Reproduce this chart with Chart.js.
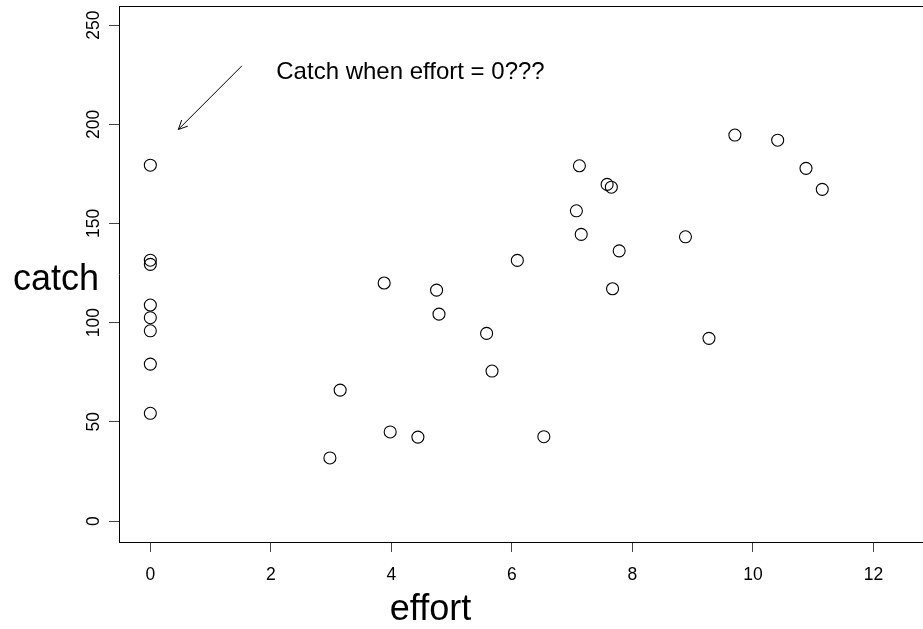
<!DOCTYPE html>
<html>
<head>
<meta charset="utf-8">
<script src="https://cdn.jsdelivr.net/npm/chart.js@4/dist/chart.umd.min.js"></script>
<style>
  html, body { margin: 0; padding: 0; background: #fff; overflow: hidden; }
  #wrap { width: 923px; height: 629px; position: relative; overflow: hidden; }
  #c { position: absolute; left: 0; top: -1px; }
</style>
</head>
<body>
<div id="wrap"><canvas id="c" width="930" height="630"></canvas></div>
<script>
// ---- data ----
const effort = [0, 0, 0, 0, 0, 0, 0, 0,
  2.98, 3.15, 3.88, 3.98, 4.44, 4.75, 4.79, 5.58, 5.67, 6.09, 6.53,
  7.07, 7.12, 7.15, 7.58, 7.65, 7.67, 7.78, 8.88, 9.27, 9.70, 10.41, 10.88, 11.15];
const catchVals = [179.4, 131.5, 129.4, 108.9, 102.5, 95.9, 79.1, 54.3,
  31.8, 66.0, 120.0, 44.9, 42.3, 116.4, 104.3, 94.6, 75.6, 131.4, 42.5,
  156.4, 179.1, 144.5, 169.7, 168.3, 117.1, 136.2, 143.3, 92.1, 194.6, 192.0, 177.8, 167.2];
const xTicks = [0, 2, 4, 6, 8, 10, 12];
const yTicks = [0, 50, 100, 150, 200, 250];
const xTitle = "effort";
const yTitle = "catch";
const noteText = "Catch when effort = 0???";
const noteAt = [2.09, 226.3];
const arrowFrom = [1.52, 229.5];
const arrowTo = [0.465, 197.4];

const points = effort.map((x, i) => ({ x: x, y: catchVals[i] }));
const FONT = "'Liberation Sans', Arial, Helvetica, sans-serif";

const decor = {
  id: 'decor',
  afterDraw(chart) {
    const { ctx, chartArea: a, scales: { x, y } } = chart;
    ctx.save();
    // top frame line
    ctx.strokeStyle = '#000';
    ctx.lineWidth = 1;
    ctx.beginPath();
    ctx.moveTo(a.left, Math.round(a.top) + 0.5);
    ctx.lineTo(a.right, Math.round(a.top) + 0.5);
    ctx.stroke();
    // axis titles (canvas is shifted up by 1px)
    ctx.fillStyle = '#000';
    ctx.font = '36px ' + FONT;
    ctx.textAlign = 'center';
    ctx.textBaseline = 'alphabetic';
    ctx.fillText(yTitle, 56, 290.5);
    ctx.fillText(xTitle, 430.5, 621);
    // annotation text
    ctx.font = '24px ' + FONT;
    ctx.textAlign = 'left';
    ctx.textBaseline = 'middle';
    ctx.fillText(noteText, x.getPixelForValue(noteAt[0]), y.getPixelForValue(noteAt[1]));
    // arrow
    const x0 = x.getPixelForValue(arrowFrom[0]), y0 = y.getPixelForValue(arrowFrom[1]);
    const x1 = x.getPixelForValue(arrowTo[0]), y1 = y.getPixelForValue(arrowTo[1]);
    ctx.lineWidth = 1;
    ctx.beginPath();
    ctx.moveTo(x0, y0);
    ctx.lineTo(x1, y1);
    ctx.stroke();
    const ang = Math.atan2(y1 - y0, x1 - x0);
    const L = 10, spread = Math.PI / 7;
    ctx.beginPath();
    ctx.moveTo(x1 - L * Math.cos(ang - spread), y1 - L * Math.sin(ang - spread));
    ctx.lineTo(x1, y1);
    ctx.lineTo(x1 - L * Math.cos(ang + spread), y1 - L * Math.sin(ang + spread));
    ctx.stroke();
    ctx.restore();
  }
};

new Chart(document.getElementById('c'), {
  type: 'scatter',
  data: {
    datasets: [{
      data: points,
      pointStyle: 'circle',
      pointRadius: 6,
      pointHoverRadius: 6,
      borderColor: '#000',
      borderWidth: 1.1,
      backgroundColor: 'rgba(0,0,0,0)'
    }]
  },
  options: {
    responsive: false,
    animation: false,
    events: [],
    layout: { padding: { top: 6, left: 0, right: 0, bottom: 0 } },
    plugins: { legend: { display: false }, tooltip: { enabled: false } },
    scales: {
      x: {
        type: 'linear',
        min: -0.52,
        max: 12.82,
        afterBuildTicks: s => { s.ticks = xTicks.map(v => ({ value: v })); },
        afterFit: s => { s.height = 87; s.paddingLeft = 0; s.paddingRight = 0; },
        grid: { display: true, drawOnChartArea: false, drawTicks: true, tickLength: 10, color: '#444', lineWidth: 1 },
        border: { display: true, color: '#000', width: 1 },
        ticks: { color: '#000', font: { family: FONT, size: 17.5 }, padding: 13, maxRotation: 0, minRotation: 0 }
      },
      y: {
        type: 'linear',
        min: -10.58,
        max: 259.6,
        afterBuildTicks: s => { s.ticks = yTicks.map(v => ({ value: v })); },
        afterFit: s => { s.width = 119; s.paddingTop = 0; s.paddingBottom = 0; },
        grid: { display: true, drawOnChartArea: false, drawTicks: true, tickLength: 10, color: '#444', lineWidth: 1 },
        border: { display: true, color: '#000', width: 1 },
        ticks: { color: '#000', font: { family: FONT, size: 17.5 }, padding: 0, minRotation: 90, maxRotation: 90, crossAlign: 'center' }
      }
    }
  },
  plugins: [decor]
});
</script>
</body>
</html>
